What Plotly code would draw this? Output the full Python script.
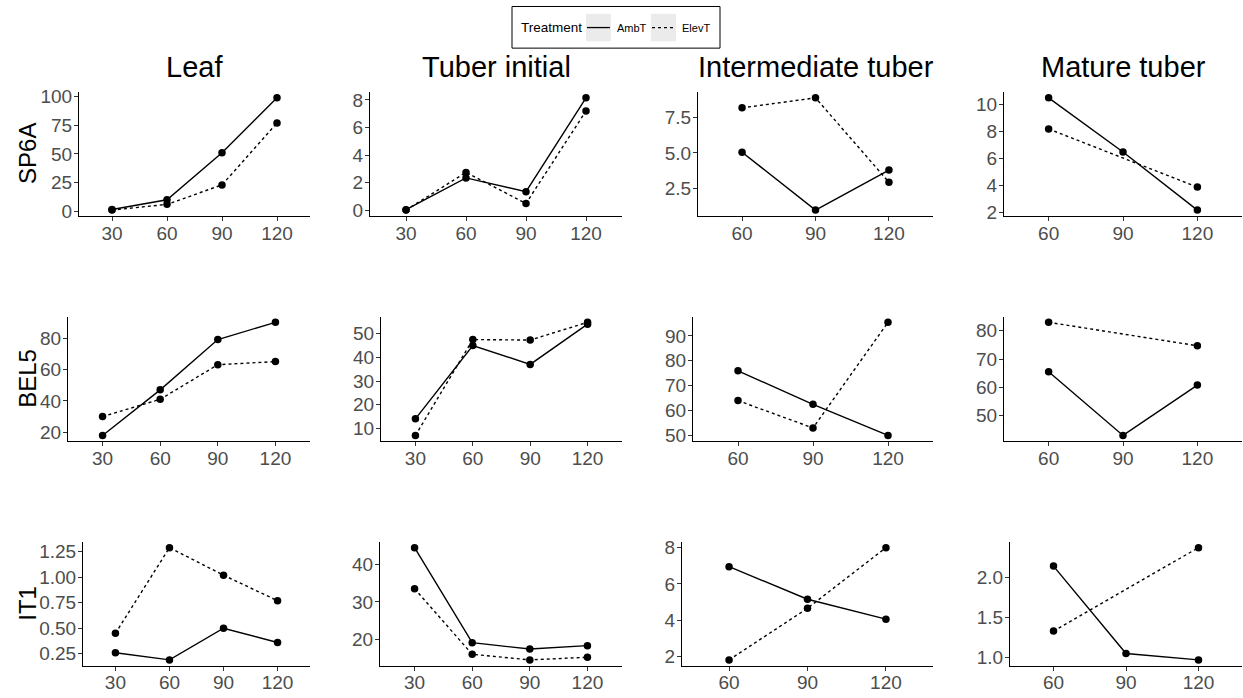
import plotly.graph_objects as go

W, H = 1243, 698

tissues = ["Leaf", "Tuber initial", "Intermediate tuber", "Mature tuber"]
genes = ["SP6A", "BEL5", "IT1"]
treatments = ["AmbT", "ElevT"]

days_all = [30, 60, 90, 120]
days_late = [60, 90, 120]
days_mature_elev = [60, 120]

# SP6A
sp6a_leaf_amb = [1.5, 10, 51, 99]
sp6a_leaf_elev = [1.0, 6, 23, 77]
sp6a_ti_amb = [0.05, 2.35, 1.35, 8.15]
sp6a_ti_elev = [0.02, 2.75, 0.5, 7.2]
sp6a_it_amb = [5.05, 1.0, 3.8]
sp6a_it_elev = [8.15, 8.85, 2.95]
sp6a_mt_amb = [10.5, 6.5, 2.2]
sp6a_mt_elev = [8.2, 3.9]

# BEL5
bel5_leaf_amb = [18, 47, 79, 90]
bel5_leaf_elev = [30, 41, 63, 65]
bel5_ti_amb = [14, 45, 37, 54]
bel5_ti_elev = [7, 47.5, 47.3, 54.8]
bel5_it_amb = [76, 62.5, 50]
bel5_it_elev = [64, 53, 95.5]
bel5_mt_amb = [65.5, 43, 60.8]
bel5_mt_elev = [83, 74.7]

# IT1
it1_leaf_amb = [0.26, 0.19, 0.50, 0.36]
it1_leaf_elev = [0.45, 1.29, 1.02, 0.77]
it1_ti_amb = [44.5, 19.1, 17.4, 18.3]
it1_ti_elev = [33.5, 16.0, 14.5, 15.2]
it1_it_amb = [6.95, 5.15, 4.05]
it1_it_elev = [1.8, 4.65, 8.0]
it1_mt_amb = [2.14, 1.05, 0.97]
it1_mt_elev = [1.33, 2.37]

# y tick labels
yticks = {
    (0, 0): [0, 25, 50, 75, 100], (0, 1): [0, 2, 4, 6, 8],
    (0, 2): [2.5, 5.0, 7.5], (0, 3): [2, 4, 6, 8, 10],
    (1, 0): [20, 40, 60, 80], (1, 1): [10, 20, 30, 40, 50],
    (1, 2): [50, 60, 70, 80, 90], (1, 3): [50, 60, 70, 80],
    (2, 0): [0.25, 0.50, 0.75, 1.00, 1.25], (2, 1): [20, 30, 40],
    (2, 2): [2, 4, 6, 8], (2, 3): [1.0, 1.5, 2.0],
}
ytick_fmt = {(0, 2): ".1f", (2, 0): ".2f", (2, 3): ".1f"}

panels = {
    (0, 0): (days_all, sp6a_leaf_amb, days_all, sp6a_leaf_elev),
    (0, 1): (days_all, sp6a_ti_amb, days_all, sp6a_ti_elev),
    (0, 2): (days_late, sp6a_it_amb, days_late, sp6a_it_elev),
    (0, 3): (days_late, sp6a_mt_amb, days_mature_elev, sp6a_mt_elev),
    (1, 0): (days_all, bel5_leaf_amb, days_all, bel5_leaf_elev),
    (1, 1): (days_all, bel5_ti_amb, days_all, bel5_ti_elev),
    (1, 2): (days_late, bel5_it_amb, days_late, bel5_it_elev),
    (1, 3): (days_late, bel5_mt_amb, days_mature_elev, bel5_mt_elev),
    (2, 0): (days_all, it1_leaf_amb, days_all, it1_leaf_elev),
    (2, 1): (days_all, it1_ti_amb, days_all, it1_ti_elev),
    (2, 2): (days_late, it1_it_amb, days_late, it1_it_elev),
    (2, 3): (days_late, it1_mt_amb, days_mature_elev, it1_mt_elev),
}

# panel geometry (pixels)
lefts = [[79, 370, 698, 1004], [68, 381, 693, 1004], [83, 380, 682, 1010]]
rights = [310, 622, 933, 1242]
tops = [88, 317, 547]
bottoms = [214, 444, 673]

FONT = "Liberation Sans, Arial, sans-serif"
TICKCOL = "#4D4D4D"
TICKSIZE = 19

fig = go.Figure()
layout = {}
idx = 0
for r in range(3):
    for c in range(4):
        idx += 1
        xa = "xaxis" if idx == 1 else f"xaxis{idx}"
        ya = "yaxis" if idx == 1 else f"yaxis{idx}"
        xref = "x" if idx == 1 else f"x{idx}"
        yref = "y" if idx == 1 else f"y{idx}"
        xa_amb, ya_amb, xa_el, ya_el = panels[(r, c)]
        fig.add_trace(go.Scatter(
            x=xa_amb, y=ya_amb, mode="lines+markers", name="AmbT",
            showlegend=False,
            line=dict(color="black", width=1.4, dash="solid"),
            marker=dict(color="black", size=7.5),
            xaxis=xref, yaxis=yref))
        fig.add_trace(go.Scatter(
            x=xa_el, y=ya_el, mode="lines+markers", name="ElevT",
            showlegend=False,
            line=dict(color="black", width=1.4, dash="3px,3px"),
            marker=dict(color="black", size=7.5),
            xaxis=xref, yaxis=yref))
        allx = xa_amb + xa_el
        ally = ya_amb + ya_el
        xr = [min(allx) - 18, max(allx) + 18]
        ymin, ymax = min(ally), max(ally)
        pad = (ymax - ymin) * 0.05
        yr = [ymin - pad, ymax + pad]
        xd = [lefts[r][c] / W, rights[c] / W]
        yd = [1 - bottoms[r] / H, 1 - tops[r] / H]
        tv = yticks[(r, c)]
        fmt = ytick_fmt.get((r, c), "")
        tt = [format(v, fmt) if fmt else str(v) for v in tv]
        xt = sorted(set(allx))
        common = dict(showgrid=False, zeroline=False, showline=True,
                      linecolor="black", linewidth=1.1,
                      ticks="outside", ticklen=4, tickcolor="#333333",
                      tickfont=dict(family=FONT, size=TICKSIZE, color=TICKCOL))
        layout[xa] = dict(domain=xd, range=xr, anchor=yref, tickvals=xt,
                          ticklabelstandoff=-4, **common)
        layout[ya] = dict(domain=yd, range=yr, anchor=xref, tickvals=tv, ticktext=tt,
                          ticklabelstandoff=-2, **common)

annotations = []
for c, t in enumerate(tissues):
    cx = (lefts[0][c] + rights[c]) / 2 / W
    annotations.append(dict(text=t, x=cx, y=1 - 62 / H, xref="paper", yref="paper",
                            xanchor="center", yanchor="middle", showarrow=False,
                            font=dict(family=FONT, size=29, color="black")))
for r, g in enumerate(genes):
    cy = 1 - (tops[r] + bottoms[r]) / 2 / H
    annotations.append(dict(text=g, x=28 / W, y=cy, xref="paper", yref="paper",
                            xanchor="center", yanchor="middle", showarrow=False,
                            textangle=-90,
                            font=dict(family=FONT, size=24, color="black")))

# manual legend (box, key backgrounds, key lines, labels)
def px(x):
    return x / W

def py(y):
    return 1 - y / H

shapes = [
    dict(type="rect", xref="paper", yref="paper", x0=px(512), x1=px(720),
         y0=py(43), y1=py(0.5), line=dict(color="black", width=1), fillcolor="rgba(0,0,0,0)"),
]
key_x = [586, 651]
key_dash = ["solid", "3px,3px"]
label_x = [615, 680]
annotations.append(dict(text="Treatment", x=px(519), y=py(22), xref="paper", yref="paper",
                        xanchor="left", yanchor="middle", showarrow=False,
                        font=dict(family=FONT, size=13.5, color="black")))
for k, name in enumerate(treatments):
    shapes.append(dict(type="rect", xref="paper", yref="paper", layer="below",
                       x0=px(key_x[k]), x1=px(key_x[k] + 25), y0=py(36), y1=py(8),
                       fillcolor="#EBEBEB", line=dict(width=0)))
    shapes.append(dict(type="line", xref="paper", yref="paper",
                       x0=px(key_x[k] + 1), x1=px(key_x[k] + 24), y0=py(22), y1=py(22),
                       line=dict(color="black", width=1.3, dash=key_dash[k])))
    annotations.append(dict(text=name, x=px(label_x[k]), y=py(22), xref="paper", yref="paper",
                            xanchor="left", yanchor="middle", showarrow=False,
                            font=dict(family=FONT, size=11, color="black")))

fig.update_layout(
    **layout,
    width=W, height=H,
    margin=dict(l=0, r=0, t=0, b=0),
    paper_bgcolor="white", plot_bgcolor="white",
    annotations=annotations,
    shapes=shapes,
    showlegend=False,
)

fig.write_html("out.html")
